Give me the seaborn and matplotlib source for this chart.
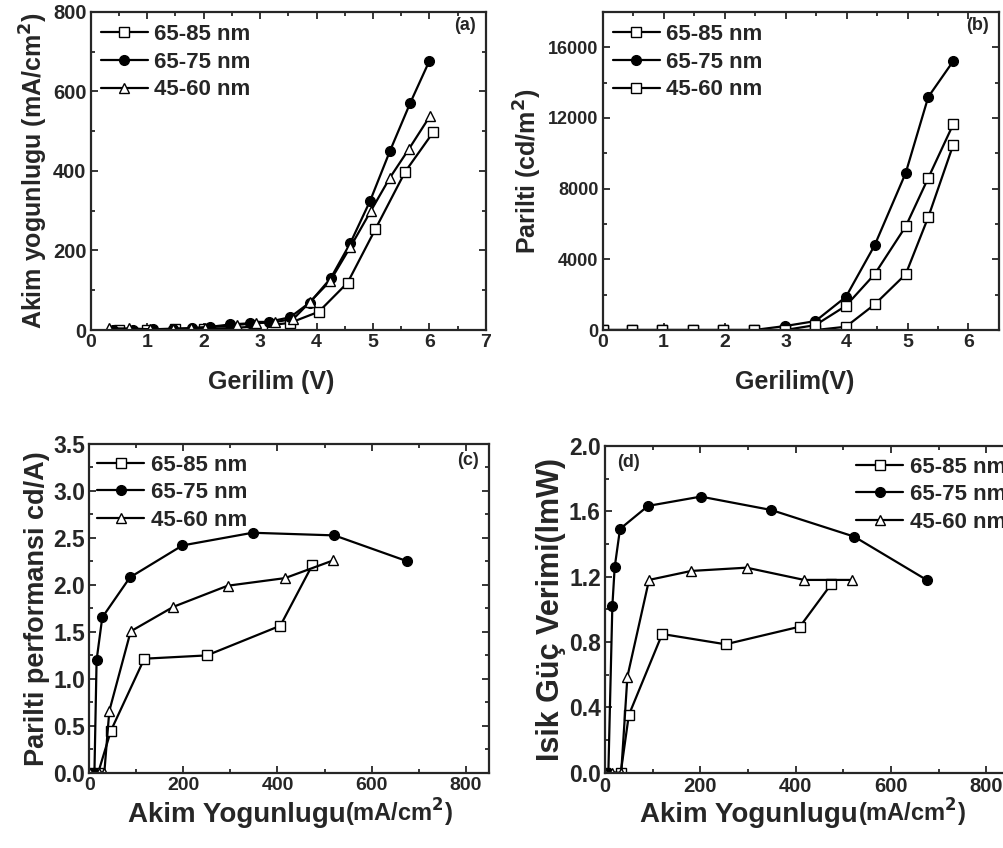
import matplotlib
matplotlib.use("Agg")
import matplotlib.pyplot as plt
import seaborn as sns
from matplotlib.ticker import MultipleLocator

# ---- (a) current density vs voltage ----
a_sq_v = [0.5, 1.0, 1.5, 2.0, 2.5, 3.03, 3.53, 4.04, 4.55, 5.04, 5.57, 6.07]
a_sq_j = [1, 1, 2, 3, 5, 10, 18, 46, 119, 253, 398, 498]
a_ci_v = [0.4, 0.75, 1.1, 1.46, 1.79, 2.11, 2.47, 2.82, 3.16, 3.53, 3.88, 4.25, 4.60, 4.95, 5.30, 5.66, 6.0]
a_ci_j = [1, 1, 2, 3, 5, 8, 14, 17, 21, 32, 69, 130, 219, 325, 450, 571, 677]
a_tr_v = [0.33, 0.68, 1.05, 1.46, 1.78, 2.02, 2.59, 2.93, 3.26, 3.59, 3.88, 4.24, 4.60, 4.96, 5.30, 5.64, 6.01]
a_tr_j = [4, 4, 2, 3, 4, 6, 13, 17, 20, 28, 70, 123, 209, 299, 383, 456, 538]

# ---- (b) luminance vs voltage ----
b_v = [0, 0.48, 0.98, 1.48, 1.98, 2.48, 2.99, 3.49, 3.99, 4.46, 4.97, 5.34, 5.75]
b_6585 = [0, 0, 0, 0, 0, 0, 0, 0, 188, 1446, 3155, 6385, 10479]
b_6575 = [0, 0, 0, 0, 0, 0, 225, 507, 1878, 4789, 8883, 13183, 15211]
b_4560 = [0, 0, 0, 0, 0, 0, 0, 282, 1371, 3155, 5859, 8601, 11643]

# ---- (c) luminous efficiency vs current density ----
c_sq_x = [1, 19, 46, 117, 250, 406, 474]
c_sq_y = [0, 0, 0.447, 1.214, 1.249, 1.565, 2.211]
c_ci_x = [1, 11, 15.6, 27.7, 86.5, 198, 347, 521, 675]
c_ci_y = [0, 0, 1.20, 1.654, 2.08, 2.42, 2.555, 2.527, 2.253]
c_tr_x = [1, 21, 32, 42.6, 88, 179, 294, 416, 518]
c_tr_y = [0, 0, 0, 0.657, 1.505, 1.767, 1.991, 2.072, 2.26]

# ---- (d) power efficiency vs current density ----
d_sq_x = [1, 33, 50, 120, 253, 409, 475]
d_sq_y = [0, 0, 0.353, 0.849, 0.786, 0.894, 1.155]
d_ci_x = [1, 7, 15.4, 20.3, 31.5, 90.3, 201, 349, 523, 675]
d_ci_y = [0, 0, 1.02, 1.257, 1.492, 1.633, 1.69, 1.608, 1.445, 1.18]
d_tr_x = [1, 15, 34, 47, 92.4, 181, 297, 418, 519]
d_tr_y = [0, 0, 0, 0.588, 1.18, 1.235, 1.255, 1.18, 1.18]

labels = ["65-85 nm", "65-75 nm", "45-60 nm"]

sns.set_style("ticks")
plt.rcParams["font.family"] = ["Liberation Sans", "DejaVu Sans"]
plt.rcParams["font.weight"] = "bold"
plt.rcParams["axes.labelweight"] = "bold"
plt.rcParams["axes.linewidth"] = 1.6
plt.rcParams["mathtext.default"] = "bf"

fig = plt.figure(figsize=(10.04, 8.48), dpi=100)
axA = fig.add_axes([0.0903, 0.6108, 0.3937, 0.3753])
axB = fig.add_axes([0.6003, 0.6108, 0.3947, 0.3753])
axC = fig.add_axes([0.0889, 0.0888, 0.3984, 0.3876])
axD = fig.add_axes([0.6026, 0.0888, 0.4034, 0.3853])

STY = {
    "s": dict(marker="s", markerfacecolor="white", markersize=6.5),
    "o": dict(marker="o", markerfacecolor="black", markersize=7),
    "^": dict(marker="^", markerfacecolor="white", markersize=7.5),
}


def series(ax, x, y, m, label):
    sns.lineplot(x=x, y=y, ax=ax, sort=False, estimator=None, color="black",
                 linewidth=1.6, markeredgecolor="black", markeredgewidth=1.0,
                 label=label, **STY[m])


def style_axes(ax, xlim, ylim, xmaj, xmin, ymaj, ymin, xsize, ysize):
    ax.set_xlim(*xlim)
    ax.set_ylim(*ylim)
    ax.xaxis.set_major_locator(MultipleLocator(xmaj))
    ax.xaxis.set_minor_locator(MultipleLocator(xmin))
    ax.yaxis.set_major_locator(MultipleLocator(ymaj))
    ax.yaxis.set_minor_locator(MultipleLocator(ymin))
    for s in ax.spines.values():
        s.set_visible(True)
        s.set_linewidth(1.6)
    ax.tick_params(which="both", direction="in", top=True, right=True,
                   width=1.3, pad=3)
    ax.tick_params(axis="x", labelsize=xsize)
    ax.tick_params(axis="y", labelsize=ysize)
    ax.tick_params(which="major", length=5)
    ax.tick_params(which="minor", length=3)
    for t in ax.get_xticklabels() + ax.get_yticklabels():
        t.set_fontweight("bold")


def legend(ax, loc, anchor):
    ax.legend(loc=loc, bbox_to_anchor=anchor, frameon=False, handlelength=2.1,
              handletextpad=0.3, labelspacing=0.3, borderaxespad=0.15,
              prop={"size": 16, "weight": "bold"})


def current_xlabel(ax, split):
    # main words large, unit part slightly smaller, sharing one baseline
    ax.text(split, -0.15, "Akim Yogunlugu", transform=ax.transAxes,
            ha="right", va="baseline", fontsize=20, fontweight="bold")
    ax.text(split, -0.15, "(mA/cm$^2$)", transform=ax.transAxes,
            ha="left", va="baseline", fontsize=17, fontweight="bold")


# (a)
series(axA, a_sq_v, a_sq_j, "s", labels[0])
series(axA, a_ci_v, a_ci_j, "o", labels[1])
series(axA, a_tr_v, a_tr_j, "^", labels[2])
style_axes(axA, (0, 7), (0, 800), 1, 0.5, 200, 100, 14, 14.5)
axA.set_xlabel("Gerilim (V)", fontsize=18)
axA.xaxis.set_label_coords(0.456, -0.125)
axA.set_ylabel("Akim yogunlugu (mA/cm$^2$)", fontsize=18, labelpad=2)
legend(axA, "upper left", (-0.005, 1.0))
axA.text(0.975, 0.985, "(a)", transform=axA.transAxes, ha="right", va="top",
         fontsize=13, fontweight="bold")

# (b)
series(axB, b_v, b_6585, "s", labels[0])
series(axB, b_v, b_6575, "o", labels[1])
series(axB, b_v, b_4560, "s", labels[2])
style_axes(axB, (0, 6.5), (0, 18000), 1, 0.5, 4000, 2000, 14, 13)
axB.set_xlabel("Gerilim(V)", fontsize=18)
axB.xaxis.set_label_coords(0.485, -0.125)
axB.set_ylabel("Parilti (cd/m$^2$)", fontsize=18, labelpad=3)
legend(axB, "upper left", (-0.005, 1.0))
axB.text(0.975, 0.985, "(b)", transform=axB.transAxes, ha="right", va="top",
         fontsize=13, fontweight="bold")

# (c)
series(axC, c_sq_x, c_sq_y, "s", labels[0])
series(axC, c_ci_x, c_ci_y, "o", labels[1])
series(axC, c_tr_x, c_tr_y, "^", labels[2])
style_axes(axC, (0, 850), (0, 3.5), 200, 100, 0.5, 0.25, 14, 16.5)
current_xlabel(axC, 0.64)
axC.set_ylabel("Parilti performansi cd/A)", fontsize=19.5, labelpad=2)
legend(axC, "upper left", (-0.01, 1.005))
axC.text(0.975, 0.975, "(c)", transform=axC.transAxes, ha="right", va="top",
         fontsize=13, fontweight="bold")

# (d)
series(axD, d_sq_x, d_sq_y, "s", labels[0])
series(axD, d_ci_x, d_ci_y, "o", labels[1])
series(axD, d_tr_x, d_tr_y, "^", labels[2])
style_axes(axD, (0, 850), (0, 2.0), 200, 100, 0.4, 0.2, 14.5, 16.5)
current_xlabel(axD, 0.625)
axD.set_ylabel("Isik Güç Verimi(lmW)", fontsize=22, labelpad=2)
legend(axD, "upper right", (1.02, 1.005))
axD.text(0.03, 0.975, "(d)", transform=axD.transAxes, ha="left", va="top",
         fontsize=13, fontweight="bold")

fig.savefig("out.png", dpi=100)
